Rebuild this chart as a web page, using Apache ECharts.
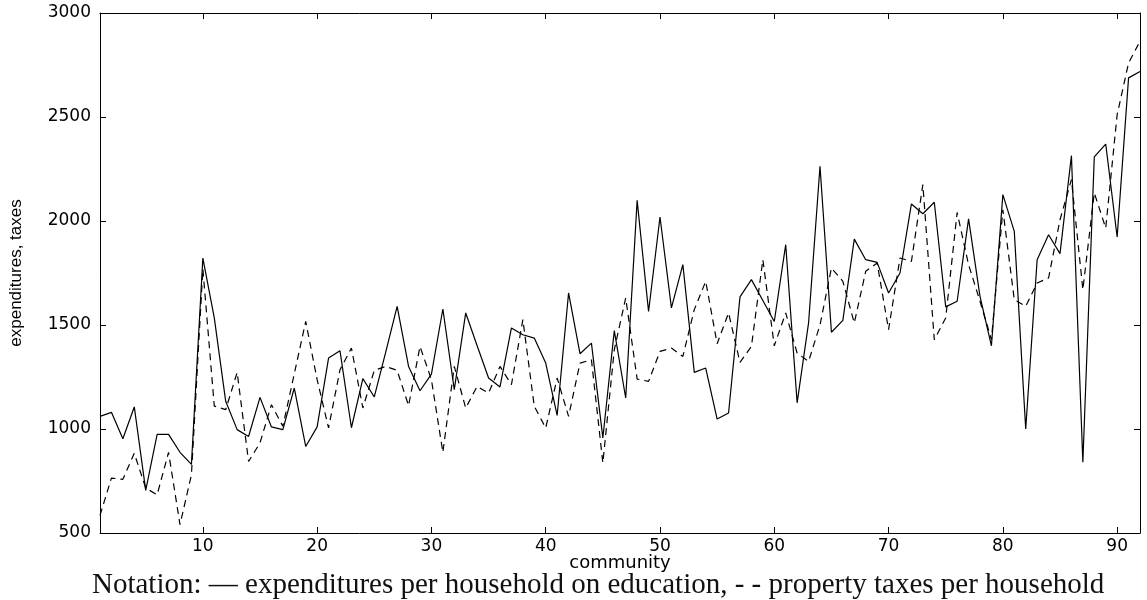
<!DOCTYPE html>
<html>
<head>
<meta charset="utf-8">
<script src="https://cdn.jsdelivr.net/npm/echarts@6/dist/echarts.min.js"></script>
<style>
    html, body { margin: 0; padding: 0; background: #fff; }
    #chart { width: 1147px; height: 600px; }
</style>
</head>
<body>
<div id="chart"></div>
<script>
// community index, 1..92
const communities = Array.from({ length: 92 }, (_, i) => i + 1)

// expenditures per household on education (solid)
const expenditures = [
    1061, 1080, 953, 1106, 705, 974, 974, 888, 830, 1822,
    1534, 1133, 997, 964, 1152, 1010, 997, 1197, 916, 1010,
    1341, 1376, 1006, 1242, 1154, 1370, 1590, 1301, 1184, 1264,
    1577, 1189, 1558, 1400, 1245, 1202, 1486, 1453, 1437, 1317,
    1065, 1654, 1362, 1413, 957, 1473, 1149, 2099, 1565, 2019,
    1582, 1790, 1272, 1293, 1048, 1077, 1635, 1718, 1618, 1517,
    1886, 1126, 1510, 2263, 1465, 1522, 1913, 1814, 1801, 1654,
    1750, 2082, 2035, 2090, 1587, 1614, 2010, 1638, 1400, 2127,
    1950, 1000, 1814, 1934, 1843, 2314, 840, 2308, 2370, 1923,
    2688, 2719,
]

// property taxes per household (dashed)
const taxes = [
    585, 764, 758, 883, 716, 684, 888, 540, 780, 1770,
    1110, 1093, 1272, 844, 933, 1117, 1013, 1265, 1517, 1237,
    1005, 1285, 1389, 1101, 1282, 1301, 1282, 1112, 1397, 1237,
    888, 1301, 1101, 1205, 1173, 1301, 1213, 1526, 1109, 1005,
    1245, 1061, 1317, 1333, 837, 1381, 1630, 1240, 1229, 1373,
    1389, 1349, 1574, 1710, 1410, 1558, 1320, 1397, 1814, 1400,
    1558, 1365, 1325, 1500, 1774, 1710, 1510, 1758, 1798, 1478,
    1822, 1806, 2175, 1429, 1534, 2041, 1790, 1614, 1430, 2054,
    1622, 1590, 1702, 1726, 2006, 2199, 1670, 2135, 1966, 2511,
    2760, 2864,
]

const xTicks = [10, 20, 30, 40, 50, 60, 70, 80, 90]
const yMin = 500
const yMax = 3000
const yStep = 500

const caption = "Notation: \u2014 expenditures per household on education, - - property taxes per household"

const tickFont = {
    color: "#000",
    fontFamily: "DejaVu Sans",
    fontSize: 17,
}
const frameLine = { show: true, lineStyle: { color: "#000", width: 1 } }
const isTick = (idx, val) => xTicks.includes(Number(val))

const chart = echarts.init(document.getElementById("chart"), null, { renderer: "canvas" })

chart.setOption({
    animation: false,
    backgroundColor: "#fff",
    grid: { left: 100, right: 7, top: 13, bottom: 67 },
    xAxis: [
        {
            type: "category",
            data: communities,
            boundaryGap: false,
            position: "bottom",
            name: "community",
            nameLocation: "middle",
            nameGap: 21,
            nameMoveOverlap: false,
            nameTextStyle: { color: "#000", fontFamily: "DejaVu Sans", fontSize: 18 },
            axisLine: frameLine,
            axisTick: { show: true, inside: true, length: 6, interval: isTick, lineStyle: { color: "#000" } },
            axisLabel: { ...tickFont, margin: 5, interval: isTick },
            splitLine: { show: false },
        },
        {
            type: "category",
            data: communities,
            boundaryGap: false,
            position: "top",
            axisLine: frameLine,
            axisTick: { show: true, inside: true, length: 6, interval: isTick, lineStyle: { color: "#000" } },
            axisLabel: { show: false },
            splitLine: { show: false },
        },
    ],
    yAxis: [
        {
            type: "value",
            min: yMin,
            max: yMax,
            interval: yStep,
            position: "left",
            name: "expenditures, taxes",
            nameLocation: "middle",
            nameGap: 75,
            nameMoveOverlap: false,
            nameTextStyle: { color: "#000", fontFamily: "Liberation Sans", fontSize: 17 },
            axisLine: frameLine,
            axisTick: { show: true, inside: true, length: 6, lineStyle: { color: "#000" } },
            axisLabel: { ...tickFont, margin: 9, formatter: v => String(v) },
            splitLine: { show: false },
        },
        {
            type: "value",
            min: yMin,
            max: yMax,
            interval: yStep,
            position: "right",
            axisLine: frameLine,
            axisTick: { show: true, inside: true, length: 6, lineStyle: { color: "#000" } },
            axisLabel: { show: false },
            splitLine: { show: false },
        },
    ],
    graphic: [
        {
            type: "text",
            left: 92,
            top: 571,
            style: {
                text: caption,
                fill: "#111",
                font: "29px 'Liberation Serif'",
            },
        },
    ],
    series: [
        {
            name: "expenditures",
            type: "line",
            data: expenditures,
            showSymbol: false,
            lineStyle: { color: "#000", width: 1.2 },
        },
        {
            name: "taxes",
            type: "line",
            data: taxes,
            showSymbol: false,
            lineStyle: { color: "#000", width: 1.2, type: [7, 5] },
        },
    ],
})
</script>
</body>
</html>
